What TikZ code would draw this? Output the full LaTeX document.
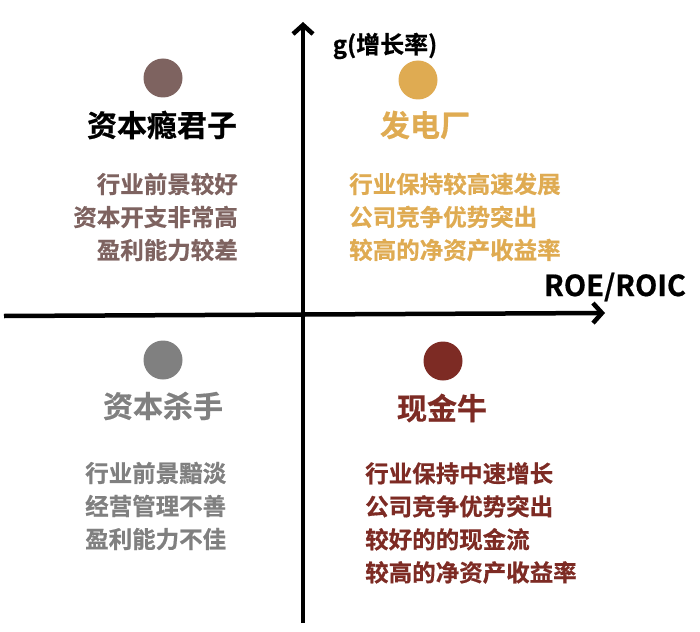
\documentclass[tikz,border=0pt]{standalone}
\usepackage{fontspec}
\setmainfont{Noto Sans CJK SC}[BoldFont={* Bold},BoldFeatures={FakeBold=0.6}]
\usepackage{xcolor}
\usetikzlibrary{arrows.meta,positioning}

\definecolor{addict}{HTML}{7E6360}
\definecolor{power}{HTML}{DFAB52}
\definecolor{killer}{HTML}{808080}
\definecolor{cashcow}{HTML}{7D2B24}

\begin{document}
\begin{tikzpicture}[
    x=1pt, y=-1pt,
    axis/.style={line width=4.5pt,-{Straight Barb[length=9pt,width=20pt]}},
    dot/.style={circle,fill=#1,minimum size=39pt,inner sep=0pt},
    title/.style={font=\fontsize{30}{30}\selectfont\bfseries,text=#1,inner sep=0pt},
    body/.style={font=\fontsize{23.5}{33}\selectfont\bfseries,text=#1,inner sep=0pt},
    axlabel/.style={font=\bfseries,inner sep=0pt}
]
\useasboundingbox (0,0) rectangle (700,631);

% axes
\coordinate (ybot) at (303,623);
\coordinate (ytop) at (303,22);
\coordinate (xleft) at (4,316);
\coordinate (xright) at (605,313);
\draw[axis] (ybot) -- (ytop);
\draw[axis] (xleft) -- (xright);
\node[axlabel,font=\fontsize{24}{24}\selectfont\bfseries] (glab) at (385,46) {g(增长率)};
\node[axlabel,font=\fontsize{29}{29}\selectfont\bfseries] (roelab) at (615,287) {ROE/ROIC};

% top left
\node[dot=addict] (d1) at (163,78) {};
\node[title=black] (t1) at (162,125) {资本瘾君子};
\node[body=addict,align=right,anchor=east] (b1) at (238,217) {行业前景较好\\资本开支非常高\\盈利能力较差};

% top right
\node[dot=power] (d2) at (418,80) {};
\node[title=power] (t2) at (425,125) {发电厂};
\node[body=power,align=left,anchor=west] (b2) at (349,217) {行业保持较高速发展\\公司竞争优势突出\\较高的净资产收益率};

% bottom left
\node[dot=killer] (d3) at (163,360) {};
\node[title=killer] (t3) at (163,406) {资本杀手};
\node[body=killer,align=left,anchor=west] (b3) at (85,506) {行业前景黯淡\\经营管理不善\\盈利能力不佳};

% bottom right
\node[dot=cashcow] (d4) at (443,361) {};
\node[title=cashcow] (t4) at (442,408) {现金牛};
\node[body=cashcow,align=left,anchor=west] (b4) at (365,523) {行业保持中速增长\\公司竞争优势突出\\较好的的现金流\\较高的净资产收益率};
\end{tikzpicture}
\end{document}
